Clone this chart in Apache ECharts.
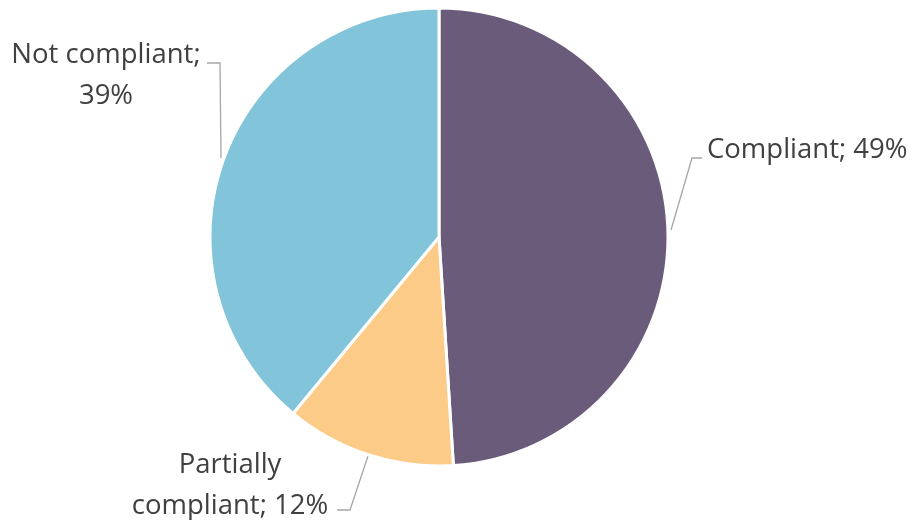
<!DOCTYPE html>
<html><head><meta charset="utf-8">
<script src="https://cdn.jsdelivr.net/npm/echarts@6/dist/echarts.min.js"></script>
<style>html,body{margin:0;padding:0;background:#fff}#c{width:915px;height:520px}</style>
</head><body><div id="c"></div>
<script>
const categories = ['Compliant', 'Partially compliant', 'Not compliant'];
const values = [49, 12, 39];
const labelTexts = ['Compliant; 49%', 'Partially\ncompliant; 12%', 'Not compliant;\n39%'];
const colors = ['#6B5B7B', '#FCCB88', '#82C5DB'];

const labelPos = [
  {x: 707, y: 150, align: 'left', pts: [[671, 230], [692, 158], [702, 158]]},
  {x: 230, y: 486, align: 'center', pts: [[368, 456], [350, 510], [337, 510]]},
  {x: 106, y: 76, align: 'center', pts: [[221, 158], [220, 63], [207, 63]]}
];

const chart = echarts.init(document.getElementById('c'), null, {renderer: 'canvas'});
chart.setOption({
  animation: false,
  backgroundColor: '#ffffff',
  series: [{
    type: 'pie',
    center: [439, 237],
    radius: 229,
    startAngle: 90,
    clockwise: true,
    avoidLabelOverlap: false,
    itemStyle: {borderColor: '#ffffff', borderWidth: 3},
    label: {
      show: true,
      formatter: p => labelTexts[p.dataIndex],
      fontFamily: 'Open Sans',
      fontSize: 27.5,
      lineHeight: 41,
      color: '#404040'
    },
    labelLine: {show: true, lineStyle: {color: '#A6A6A6', width: 1.3}, length: 10, length2: 10},
    labelLayout: function (params) {
      const L = labelPos[params.dataIndex];
      return {x: L.x, y: L.y, align: L.align, verticalAlign: 'middle', labelLinePoints: L.pts};
    },
    data: categories.map((c, i) => ({name: c, value: values[i], itemStyle: {color: colors[i]}}))
  }]
});
</script></body></html>
